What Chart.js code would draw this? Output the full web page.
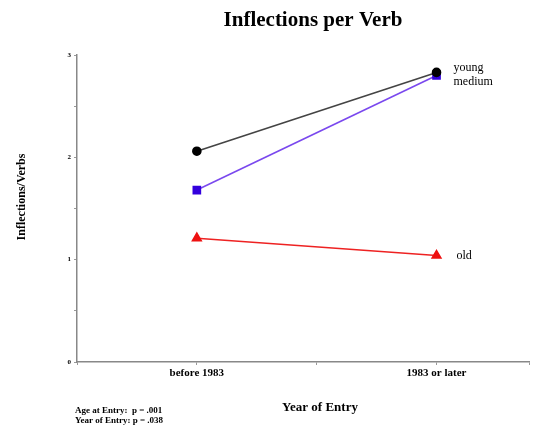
<!DOCTYPE html>
<html>
<head>
<meta charset="utf-8">
<script src="https://cdn.jsdelivr.net/npm/chart.js@4"></script>
<style>
  html, body { margin:0; padding:0; background:#fff; overflow:hidden; }
  #wrap { width:536px; height:428px; }
</style>
</head>
<body>
<div id="wrap"><canvas id="chart" width="536" height="428"></canvas></div>
<script>

/* ==========================================================
   DATA
========================================================== */

const categories = ["before 1983", "1983 or later"];

const seriesNames = ["young", "medium", "old"];

const youngValues  = [2.06, 2.83];
const mediumValues = [1.68, 2.80];
const oldValues    = [1.21, 1.04];

const yTickLabels = ["0", "1", "2", "3"];

const pValues = [
    "Age at Entry:  p = .001",
    "Year of Entry: p = .038"
];


/* ==========================================================
   HELPERS
========================================================== */

const serif = "'Liberation Serif', 'Times New Roman', serif";

// categories sit on every other tick of the x axis
function toPoints(values){
    return values.map((v, i) => ({ x: i * 2 + 1, y: v }));
}

const labelPlugin = {
    id: "labels",
    afterDraw(chart){
        const ctx = chart.ctx;
        ctx.save();
        ctx.fillStyle = "#000";

        // title
        ctx.font = "bold 21px " + serif;
        ctx.textAlign = "center";
        ctx.textBaseline = "middle";
        ctx.fillText("Inflections per Verb", 313, 21);

        // x axis title (axis runs past the right edge)
        ctx.font = "bold 13px " + serif;
        ctx.fillText("Year of Entry", 320, 408);

        // series names next to last points
        ctx.font = "12px " + serif;
        ctx.textAlign = "left";
        const off = [-5, 6, 0];
        chart.data.datasets.forEach((ds, i) => {
            const meta = chart.getDatasetMeta(i);
            const pt = meta.data[meta.data.length - 1];
            ctx.fillText(ds.label, pt.x + (i === 2 ? 20 : 17), pt.y + off[i]);
        });

        // y axis title
        ctx.font = "bold 12px " + serif;
        ctx.textAlign = "center";
        ctx.translate(22, 197);
        ctx.rotate(-Math.PI / 2);
        ctx.fillText("Inflections/Verbs", 0, 0);
        ctx.restore();

        // p values
        ctx.save();
        ctx.font = "bold 9px " + serif;
        ctx.textAlign = "left";
        ctx.textBaseline = "middle";
        pValues.forEach((t, i) => ctx.fillText(t, 75, 411 + i * 10));
        ctx.restore();
    }
};


/* ==========================================================
   CHART
========================================================== */

const ctx = document.getElementById("chart").getContext("2d");

new Chart(ctx, {
    type: "line",
    data: {
        datasets: [
            {
                label: seriesNames[0],
                data: toPoints(youngValues),
                borderColor: "#444",
                borderWidth: 1.6,
                pointStyle: "circle",
                pointRadius: 4,
                pointBackgroundColor: "#000",
                pointBorderColor: "#000"
            },
            {
                label: seriesNames[1],
                data: toPoints(mediumValues),
                borderColor: "#7a48ee",
                borderWidth: 1.6,
                pointStyle: "rect",
                pointRadius: 5,
                pointBackgroundColor: "#3300dd",
                pointBorderColor: "#3300dd"
            },
            {
                label: seriesNames[2],
                data: toPoints(oldValues),
                borderColor: "#ee2222",
                borderWidth: 1.6,
                pointStyle: "triangle",
                pointRadius: 5,
                pointBackgroundColor: "#ee1111",
                pointBorderColor: "#ee1111"
            }
        ]
    },
    options: {
        responsive: false,
        animation: false,
        layout: { padding: { top: 55, right: 0, left: 0, bottom: 0 } },
        plugins: {
            legend: { display: false },
            tooltip: { enabled: false }
        },
        scales: {
            x: {
                type: "linear",
                min: 0,
                max: 3.775,
                afterFit: s => { s.height = 66; },
                border: { color: "#888", width: 1.5 },
                grid: { drawOnChartArea: false, drawTicks: true, tickLength: 3, color: "#999" },
                ticks: {
                    stepSize: 1,
                    padding: 2,
                    autoSkip: false,
                    maxRotation: 0,
                    color: "#000",
                    font: { family: serif, size: 11, weight: "bold" },
                    callback: v => (v % 2 === 1 ? categories[(v - 1) / 2] : "")
                }
            },
            y: {
                min: 0,
                max: 3,
                afterFit: s => { s.width = 77; },
                border: { color: "#888", width: 1.5 },
                grid: { drawOnChartArea: false, drawTicks: true, tickLength: 3, color: "#999" },
                ticks: {
                    stepSize: 0.5,
                    padding: 3,
                    color: "#000",
                    font: { family: serif, size: 7, weight: "bold" },
                    callback: v => (Number.isInteger(v) ? yTickLabels[v] : "")
                }
            }
        }
    },
    plugins: [labelPlugin]
});

</script>
</body>
</html>
